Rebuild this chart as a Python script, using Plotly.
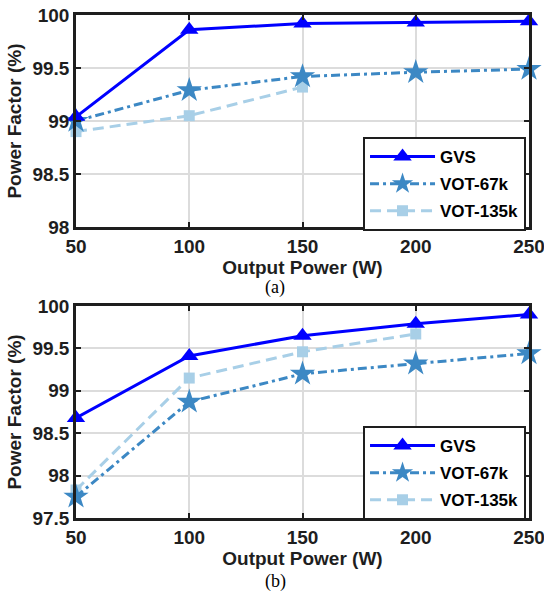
import plotly.graph_objects as go

# ---- data ----
power = [50, 100, 150, 200, 250]
power_135a = [50, 100, 150]
power_135b = [50, 100, 150, 200]

a_gvs = [99.04, 99.86, 99.92, 99.93, 99.94]
a_vot67 = [99.00, 99.29, 99.42, 99.46, 99.49]
a_vot135 = [98.90, 99.05, 99.32]

b_gvs = [98.68, 99.41, 99.65, 99.79, 99.90]
b_vot67 = [97.75, 98.87, 99.20, 99.32, 99.44]
b_vot135 = [97.83, 99.15, 99.46, 99.67]

series_names = ["GVS", "VOT-67k", "VOT-135k"]
x_ticks = [50, 100, 150, 200, 250]

# ---- style ----
C_GVS = "#0000FF"
C_67 = "#3C88C4"
C_135 = "#A8CFE7"
TXT = "#1e1e1e"
FONT = "Liberation Sans"

fig = go.Figure()


def add_panel(xa, ya, leg, g, v67, v135, x135):
    fig.add_trace(go.Scatter(
        x=x135, y=v135, name=series_names[2], mode="lines+markers",
        line=dict(color=C_135, width=3, dash="11px,6px"),
        marker=dict(symbol="square", size=11, color=C_135),
        xaxis=xa, yaxis=ya, legend=leg, legendrank=3, legendgroup=leg + "c",
        cliponaxis=False))
    fig.add_trace(go.Scatter(
        x=power, y=v67, name=series_names[1], mode="lines+markers",
        line=dict(color=C_67, width=3, dash="9px,4px,3px,4px"),
        marker=dict(symbol="star", size=19, color=C_67),
        xaxis=xa, yaxis=ya, legend=leg, legendrank=2, legendgroup=leg + "b",
        cliponaxis=False))
    fig.add_trace(go.Scatter(
        x=power, y=g, name=series_names[0], mode="lines+markers",
        line=dict(color=C_GVS, width=3),
        marker=dict(symbol="triangle-up", size=16, color=C_GVS),
        xaxis=xa, yaxis=ya, legend=leg, legendrank=1, legendgroup=leg + "a",
        cliponaxis=False))


add_panel("x", "y", "legend", a_gvs, a_vot67, a_vot135, power_135a)
add_panel("x2", "y2", "legend2", b_gvs, b_vot67, b_vot135, power_135b)

axis_common = dict(
    showline=True, linecolor=TXT, linewidth=2.5, mirror="allticks",
    ticks="inside", ticklen=5, tickwidth=2, tickcolor=TXT,
    showgrid=True, gridcolor="#dcdcdc", gridwidth=1.5, zeroline=False,
    automargin=False,
    tickfont=dict(family=FONT, size=19, color=TXT, weight="bold"),
)
xtitle = dict(text="<b>Output Power (W)</b>", font=dict(family=FONT, size=19, color=TXT), standoff=4)
ytitle = dict(text="<b>Power Factor (%)</b>", font=dict(family=FONT, size=19, color=TXT), standoff=6)

top_dom = [0.5785, 1.0]
bot_dom = [0.0, 0.4215]

legend_common = dict(
    xanchor="left", bgcolor="white", bordercolor=TXT, borderwidth=2,
    font=dict(family=FONT, size=17, color="black", weight="bold"),
    itemwidth=65, traceorder="grouped", tracegroupgap=2,
)

fig.update_layout(
    template="none",
    width=544, height=598,
    margin=dict(l=76, r=15, t=15, b=80, autoexpand=False),
    paper_bgcolor="white", plot_bgcolor="white",
    xaxis=dict(**axis_common, domain=[0, 1], anchor="y", range=[50, 250],
               tickvals=x_ticks, title=xtitle, ticklabeloverflow="allow"),
    yaxis=dict(**axis_common, domain=top_dom, anchor="x", range=[98, 100],
               dtick=0.5, tick0=98, title=ytitle),
    xaxis2=dict(**axis_common, domain=[0, 1], anchor="y2", range=[50, 250],
                tickvals=x_ticks, title=xtitle, ticklabeloverflow="allow"),
    yaxis2=dict(**axis_common, domain=bot_dom, anchor="x2", range=[97.5, 100],
                dtick=0.5, tick0=97.5, title=ytitle),
    legend=dict(**legend_common, x=0.6336, y=0.7575, yanchor="top"),
    legend2=dict(**legend_common, x=0.6336, y=-0.004, yanchor="bottom"),
    showlegend=True,
    annotations=[
        dict(text="(a)", x=0.4393, y=0.4592, xref="paper", yref="paper",
             showarrow=False, xanchor="center", yanchor="middle",
             font=dict(family="Liberation Serif", size=18, color="black")),
        dict(text="(b)", x=0.4393, y=-0.1272, xref="paper", yref="paper",
             showarrow=False, xanchor="center", yanchor="middle",
             font=dict(family="Liberation Serif", size=18, color="black")),
    ],
)

fig.write_html(
    "out.html",
    config={"displayModeBar": False},
    post_script="document.body.style.margin='0';document.body.style.padding='0';",
)
